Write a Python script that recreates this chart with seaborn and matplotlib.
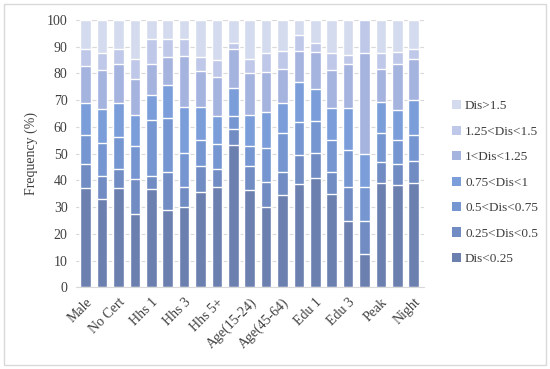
import numpy as np
import pandas as pd
import matplotlib
matplotlib.use("Agg")
import matplotlib.pyplot as plt
from matplotlib.patches import Rectangle, Patch
import seaborn as sns

# categories (only every other one is labelled on the axis)
categories = ["Male", "Female", "No Cert", "Cert", "Hhs 1", "Hhs 2", "Hhs 3", "Hhs 4",
              "Hhs 5+", "Age(5-14)", "Age(15-24)", "Age(25-44)", "Age(45-64)", "Age(65+)",
              "Edu 1", "Edu 2", "Edu 3", "Edu 4", "Peak", "Off-peak", "Night"]

# frequency (%) per distance class, bottom to top
dis_025 = [37.3, 32.9, 37.3, 27.6, 36.9, 28.9, 29.9, 35.8, 37.6, 53.3, 36.6,
           30.2, 34.5, 38.7, 40.8, 34.9, 24.9, 12.5, 39.1, 38.3, 39.2]
dis_05 = [8.8, 8.7, 7.0, 12.8, 4.7, 14.3, 7.7, 9.6, 6.5, 5.8, 8.8,
          9.3, 8.7, 10.8, 9.3, 8.3, 12.7, 12.5, 7.9, 7.7, 8.1]
dis_075 = [10.7, 12.5, 12.1, 12.5, 21.0, 20.0, 12.5, 9.9, 9.5, 5.0, 7.5,
           12.5, 14.4, 12.5, 12.2, 11.9, 13.8, 12.5, 10.9, 9.0, 9.7]
dis_1 = [12.3, 12.7, 12.6, 11.6, 9.4, 12.4, 17.2, 12.1, 10.5, 10.6, 11.4,
         13.7, 11.2, 14.9, 11.7, 12.1, 15.8, 12.5, 11.5, 11.3, 13.1]
dis_125 = [13.8, 14.5, 14.5, 13.4, 11.7, 10.6, 19.3, 13.6, 14.4, 14.3, 15.7,
           14.9, 12.8, 11.5, 14.1, 14.0, 16.3, 37.5, 12.2, 17.1, 15.2]
dis_15 = [6.1, 6.2, 5.5, 7.6, 9.3, 6.6, 6.3, 5.0, 6.5, 2.3, 5.3,
          6.9, 6.8, 5.8, 3.4, 6.5, 3.5, 12.5, 6.1, 4.7, 3.7]
dis_gt15 = [11.0, 12.5, 11.0, 14.5, 7.0, 7.2, 7.1, 14.0, 15.0, 8.7, 14.7,
            12.5, 11.6, 5.8, 8.5, 12.3, 13.0, 0.0, 12.3, 11.9, 11.0]

series_names = ["Dis<0.25", "0.25<Dis<0.5", "0.5<Dis<0.75", "0.75<Dis<1",
                "1<Dis<1.25", "1.25<Dis<1.5", "Dis>1.5"]
colors = ["#6C80B0", "#718CC3", "#7696D2", "#7B9EDB", "#A5B3DF", "#BFC8E8", "#D5DBEE"]

df = pd.DataFrame({"category": categories})
for name, vals in zip(series_names, [dis_025, dis_05, dis_075, dis_1, dis_125, dis_15, dis_gt15]):
    df[name] = vals

sns.set_style("white")
plt.rcParams["font.family"] = ["Liberation Serif", "DejaVu Serif"]

fig = plt.figure(figsize=(5.5, 3.69), dpi=100)
ax = fig.add_axes([0.138, 0.221, 0.632, 0.725])

# stacked bars: draw cumulative totals from the top class down
cum = df[series_names].cumsum(axis=1)
for name, col in reversed(list(zip(series_names, colors))):
    sns.barplot(x=df["category"], y=cum[name], color=col, width=0.64,
                saturation=1, ax=ax, zorder=2)

ax.set_ylim(0, 100)
ax.set_yticks(np.arange(0, 101, 10))
ax.yaxis.grid(True, color="#D9D9D9", linewidth=0.8, zorder=0)
ax.set_axisbelow(True)
for s in ["left", "right", "top"]:
    ax.spines[s].set_visible(False)
ax.spines["bottom"].set_color("#D9D9D9")
ax.tick_params(axis="both", length=0, labelsize=10, colors="#404040", pad=6)
ax.set_ylabel("Frequency (%)", fontsize=10, color="#404040", labelpad=6)
ax.set_xlabel("")
ax.set_xlim(-0.6, len(categories) - 0.4)

ax.set_xticks(range(0, len(categories), 2))
ax.set_xticklabels(categories[::2], rotation=45, ha="right", rotation_mode="anchor")

handles = [Patch(facecolor=c, edgecolor="none") for c in colors]
leg = fig.legend(handles[::-1], series_names[::-1], loc="center left",
                 bbox_to_anchor=(0.8, 0.505), frameon=False, fontsize=9.5,
                 handlelength=0.7, handleheight=0.7, handletextpad=0.3,
                 labelspacing=1.0, labelcolor="#404040")

fig.patches.append(Rectangle((0.008, 0.01), 0.984, 0.98, transform=fig.transFigure,
                             fill=False, edgecolor="#D9D9D9", linewidth=1))

fig.savefig("out.png", dpi=100)
